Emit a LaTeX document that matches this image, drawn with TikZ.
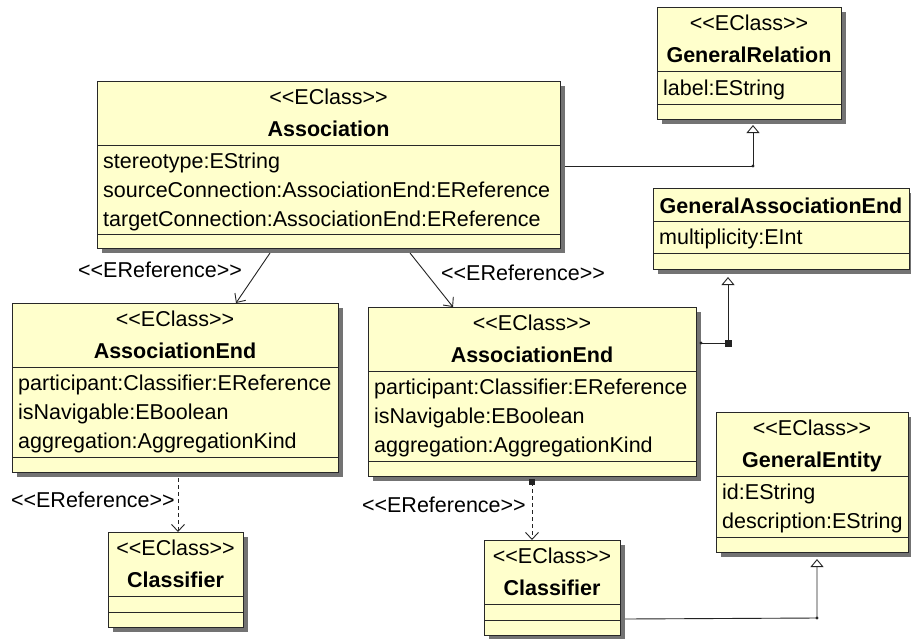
\documentclass[tikz,border=0pt]{standalone}
\usepackage{fontspec}
\setmainfont{Liberation Sans}
\usetikzlibrary{arrows.meta,calc}

\definecolor{boxfill}{RGB}{255,255,204}
\definecolor{boxline}{RGB}{40,40,40}
\definecolor{shadowgray}{RGB}{115,115,115}
\definecolor{linkgray}{RGB}{35,35,35}

% class rectangle with its drop shadow: name, left, top, right, bottom
\newcommand{\umlbox}[5]{%
  \fill[shadowgray] (#2+5,#3+5) rectangle (#4+5,#5+5);
  \node[classbox, anchor=north west, minimum width=#4-#2, minimum height=#5-#3] (#1) at (#2,#3) {};}
% horizontal compartment separator, offset from the top of the class
\newcommand{\umlsep}[2]{\draw[divline] ($(#1.north west)+(0,#2)$) -- ($(#1.north east)+(0,#2)$);}
% stereotype, class name and first separator
\newcommand{\umlhead}[2]{%
  \node[txt, anchor=base] (#1-stereo) at ($(#1.north)+(0,23)$) {<{}<EClass>{}>};
  \node[txt, font=\fontsize{21.5}{25}\selectfont\bfseries, anchor=base] (#1-title) at ($(#1.north)+(0,55)$) {#2};
  \umlsep{#1}{64}}
% attribute line, baseline offset from the top of the class
\newcommand{\umlattr}[3]{\node[txt, anchor=base west] (#1-a#2) at ($(#1.north west)+(6,#2)$) {#3};}

\begin{document}
\begin{tikzpicture}[x=1pt, y=-1pt,
  classbox/.style={draw=boxline, fill=boxfill, line width=1pt, inner sep=0pt, outer sep=0pt},
  divline/.style={draw=boxline, line width=1pt},
  txt/.style={font=\fontsize{21.5}{25}\selectfont, text=black, inner sep=0pt},
  link/.style={draw=linkgray, line width=0.9pt},
  reflink/.style={link, -{Straight Barb[length=7pt, width=13pt]}},
  deplink/.style={reflink, dash pattern=on 4pt off 3pt},
  genlink/.style={link, -{Triangle[open, length=8pt, width=13pt]}},
  joint/.style={fill=linkgray},
]
\fill[white] (0,0) rectangle (911,638);
\useasboundingbox (0,0) rectangle (911,638);

% ---- GeneralRelation
\umlbox{grel}{657}{7}{841}{119}
\umlhead{grel}{GeneralRelation}
\umlattr{grel}{88}{label:EString}
\umlsep{grel}{97}

% ---- Association
\umlbox{assoc}{97}{81}{560}{248}
\umlhead{assoc}{Association}
\umlattr{assoc}{87}{stereotype:EString}
\umlattr{assoc}{116}{sourceConnection:AssociationEnd:EReference}
\umlattr{assoc}{145}{targetConnection:AssociationEnd:EReference}
\umlsep{assoc}{153}

% ---- GeneralAssociationEnd
\umlbox{gae}{653}{188}{909}{269}
\node[txt, font=\fontsize{21.5}{25}\selectfont\bfseries, anchor=base] (gae-title) at ($(gae.north)+(0,25)$) {GeneralAssociationEnd};
\umlsep{gae}{33}
\umlattr{gae}{56}{multiplicity:EInt}
\umlsep{gae}{65}

% ---- AssociationEnd (left)
\umlbox{ae1}{12}{303}{338}{472}
\umlhead{ae1}{AssociationEnd}
\umlattr{ae1}{87}{participant:Classifier:EReference}
\umlattr{ae1}{116}{isNavigable:EBoolean}
\umlattr{ae1}{145}{aggregation:AggregationKind}
\umlsep{ae1}{154}

% ---- AssociationEnd (right)
\umlbox{ae2}{368}{307}{696}{476}
\umlhead{ae2}{AssociationEnd}
\umlattr{ae2}{87}{participant:Classifier:EReference}
\umlattr{ae2}{116}{isNavigable:EBoolean}
\umlattr{ae2}{145}{aggregation:AggregationKind}
\umlsep{ae2}{154}

% ---- GeneralEntity
\umlbox{gent}{716}{412}{908}{552}
\umlhead{gent}{GeneralEntity}
\umlattr{gent}{87}{id:EString}
\umlattr{gent}{116}{description:EString}
\umlsep{gent}{125}

% ---- Classifier (left)
\umlbox{cl1}{108}{532}{243}{627}
\umlhead{cl1}{Classifier}
\umlsep{cl1}{80}

% ---- Classifier (right)
\umlbox{cl2}{484}{540}{620}{635}
\umlhead{cl2}{Classifier}
\umlsep{cl2}{80}

% ---- references from Association
\draw[reflink] ($(assoc.south west)+(173,5)$) -- ($(ae1.north west)+(224,0)$);
\node[txt, anchor=base] (lref1) at (160,277) {<{}<EReference>{}>};
\draw[reflink] ($(assoc.south west)+(313,5)$) -- ($(ae2.north west)+(85,0)$);
\node[txt, anchor=base] (lref2) at (523,280) {<{}<EReference>{}>};

% ---- participant references
\draw[deplink] ($(ae1.south west)+(166,6)$) -- ($(cl1.north west)+(70,0)$);
\node[txt, anchor=base east] (lref3) at (175,507) {<{}<EReference>{}>};
\coordinate (p2) at ($(ae2.south west)+(164,6)$);
\fill[joint] ($(p2)+(-3,-3)$) rectangle ($(p2)+(3,3)$);
\draw[deplink] (p2) -- ($(cl2.north west)+(48,0)$);
\node[txt, anchor=base east] (lref4) at (526,512) {<{}<EReference>{}>};

% ---- generalizations
\coordinate (g1) at ($(grel.south)+(4,47)$);
\draw[genlink] ($(assoc.north east)+(5,85)$) -- (g1) -- ($(grel.south)+(4,6)$);
\fill[joint] (g1) circle (1.6);

\coordinate (g2s) at ($(ae2.north east)+(5,36)$);
\coordinate (g2) at ($(gae.south west)+(75,74)$);
\draw[genlink] (g2s) -- (g2) -- ($(gae.south west)+(75,8)$);
\fill[joint] (g2s) circle (1.6);
\fill[joint] ($(g2)+(-3.5,-3.5)$) rectangle ($(g2)+(3.5,3.5)$);

\coordinate (g3) at ($(gent.south west)+(101,66)$);
\draw[genlink] ($(cl2.north east)+(5,79)$) -- (g3) -- ($(gent.south west)+(101,7)$);
\fill[joint] (g3) circle (1.6);
\end{tikzpicture}
\end{document}
